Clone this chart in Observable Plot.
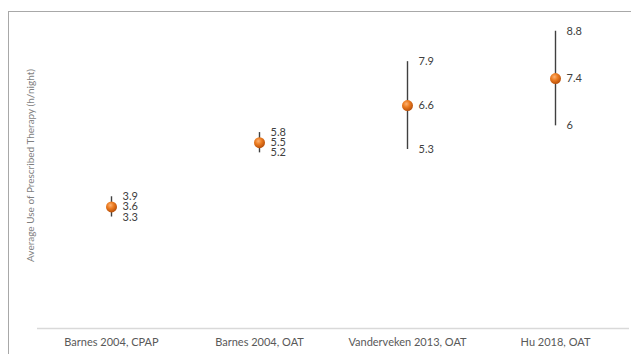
<!DOCTYPE html>
<html>
<head>
<meta charset="utf-8">
<script src="https://cdn.jsdelivr.net/npm/d3@7"></script>
<script src="https://cdn.jsdelivr.net/npm/@observablehq/plot@0.6"></script>
<style>
  html, body { margin: 0; padding: 0; background: #fff; }
  #wrap { position: relative; width: 631px; height: 354px; overflow: hidden; }
  #wrap svg { position: absolute; left: 0; top: 0; }
  #border {
    position: absolute; left: 8px; top: 11px; right: -10px; bottom: -10px;
    border-left: 1.5px solid #a8a8a8; border-top: 1.5px solid #a8a8a8;
    pointer-events: none;
  }
</style>
</head>
<body>
<div id="wrap"><div id="border"></div></div>
<script>
// Studies and their average nightly use (mean with lower / upper bounds), h/night
const studies = ["Barnes 2004, CPAP", "Barnes 2004, OAT", "Vanderveken 2013, OAT", "Hu 2018, OAT"];
const meanUse = [3.6, 5.5, 6.6, 7.4];
const lowUse  = [3.3, 5.2, 5.3, 6];
const highUse = [3.9, 5.8, 7.9, 8.8];
const yTitle = "Average Use of Prescribed Therapy (h/night)";

const rows = studies.map((s, i) => ({study: s, mean: meanUse[i], lo: lowUse[i], hi: highUse[i]}));
const labels = rows.flatMap(d => [
  {study: d.study, value: d.hi},
  {study: d.study, value: d.mean},
  {study: d.study, value: d.lo}
]);

const chart = Plot.plot({
  width: 631,
  height: 354,
  marginLeft: 37,
  marginRight: 2,
  marginTop: 24,
  marginBottom: 26,
  style: {fontFamily: "Lato, 'Open Sans', sans-serif", background: "transparent"},
  x: {type: "band", domain: studies, padding: 0, axis: null},
  y: {domain: [0, 9], axis: null},
  marks: [
    Plot.ruleY([0], {stroke: "#d9d9d9", strokeWidth: 1.5}),
    Plot.axisX({tickSize: 0, tickPadding: 10, fontSize: 11, color: "#595959", label: null}),
    Plot.text([yTitle], {
      frameAnchor: "left", textAnchor: "middle", rotate: -90, dx: -7, dy: -11,
      fontSize: 10, fill: "#7f7f7f"
    }),
    Plot.ruleX(rows, {x: "study", y1: "lo", y2: "hi", stroke: "#404040", strokeWidth: 1.4}),
    Plot.dot(rows, {x: "study", y: "mean", r: 5.5, fill: "url(#orangeBall)", stroke: "none"}),
    Plot.text(labels, {
      x: "study", y: "value", text: d => String(d.value),
      dx: 11, textAnchor: "start", fontSize: 11, fill: "#404040"
    })
  ]
});

// Shaded orange fill for the mean markers
const defs = d3.select(chart).insert("defs", ":first-child");
const grad = defs.append("radialGradient")
  .attr("id", "orangeBall").attr("cx", "40%").attr("cy", "35%").attr("r", "65%");
grad.append("stop").attr("offset", "0%").attr("stop-color", "#fcb273");
grad.append("stop").attr("offset", "45%").attr("stop-color", "#ed7d22");
grad.append("stop").attr("offset", "100%").attr("stop-color", "#b8500a");

document.getElementById("wrap").prepend(chart);
</script>
</body>
</html>
